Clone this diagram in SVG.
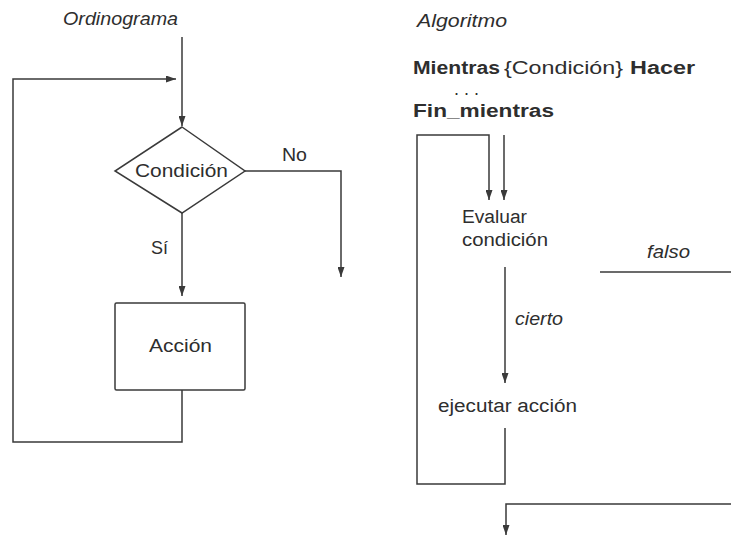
<svg xmlns="http://www.w3.org/2000/svg" width="731" height="535" viewBox="0 0 731 535">
<style>
.ln{fill:none;stroke:#3a3a3a;stroke-width:1.5}
.ar{marker-end:url(#ah)}
.t{font-family:"Liberation Sans",Arial,sans-serif;fill:#2e2e2e;font-size:18px}
.it{font-style:italic}
.b{font-weight:bold}
.shape{fill:#fff;stroke:#3a3a3a;stroke-width:1.5}
</style>
<defs>
<marker id="ah" markerUnits="userSpaceOnUse" markerWidth="10" markerHeight="7" refX="10" refY="3.5" orient="auto">
<path d="M0,0 L10,3.5 L0,7 z" fill="#3a3a3a"/>
</marker>
</defs>
<rect width="731" height="535" fill="#fff"/>

<g id="titles">
<text class="t it" x="63" y="25" font-size="17" textLength="115" lengthAdjust="spacingAndGlyphs">Ordinograma</text>
<text class="t it" x="417" y="27" font-size="17" textLength="90" lengthAdjust="spacingAndGlyphs">Algoritmo</text>
</g>

<g id="pseudocode">
<text class="t" y="74"><tspan class="b" x="413" textLength="87" lengthAdjust="spacingAndGlyphs">Mientras</tspan><tspan x="504" textLength="119" lengthAdjust="spacingAndGlyphs">{Condición}</tspan><tspan class="b" x="630" textLength="65" lengthAdjust="spacingAndGlyphs">Hacer</tspan></text>
<text class="t" x="454" y="95" font-size="12">. . .</text>
<text class="t b" x="413" y="117" textLength="141" lengthAdjust="spacingAndGlyphs">Fin_mientras</text>
</g>

<g id="connectors">
<path class="ln ar" d="M182,37 V126"/>
<path class="ln ar" d="M182,390 V442 H13 V79 H176"/>
<path class="ln ar" d="M245,171 H341 V277"/>
<path class="ln ar" d="M182,213 V296"/>
<path class="ln ar" d="M505,428 V484 H417 V135 H489 V200"/>
<path class="ln ar" d="M504,135 V200"/>
<path class="ln ar" d="M505,267 V383"/>
<path class="ln" d="M600,272 H731"/>
<path class="ln ar" d="M731,504 H506 V535"/>
</g>

<g id="condicion">
<polygon class="shape" points="182,127 245,171 182,213 115,171"/>
<text class="t" x="135" y="177" textLength="93" lengthAdjust="spacingAndGlyphs">Condición</text>
</g>

<g id="accion">
<rect class="shape" x="115" y="303" width="130" height="87" rx="1.5"/>
<text class="t" x="149" y="352" textLength="63" lengthAdjust="spacingAndGlyphs">Acción</text>
</g>

<g id="labels-left">
<text class="t" x="282" y="161" textLength="25" lengthAdjust="spacingAndGlyphs">No</text>
<text class="t" x="151" y="254" textLength="17" lengthAdjust="spacingAndGlyphs">Sí</text>
</g>

<g id="evaluar">
<text class="t" x="462" y="223" textLength="65" lengthAdjust="spacingAndGlyphs">Evaluar</text>
<text class="t" x="462" y="246" textLength="86" lengthAdjust="spacingAndGlyphs">condición</text>
</g>

<g id="ejecutar">
<text class="t" x="438" y="412" textLength="139" lengthAdjust="spacingAndGlyphs">ejecutar acción</text>
</g>

<g id="labels-right">
<text class="t it" x="515" y="325" textLength="48" lengthAdjust="spacingAndGlyphs">cierto</text>
<text class="t it" x="647" y="258" textLength="43" lengthAdjust="spacingAndGlyphs">falso</text>
</g>
</svg>
